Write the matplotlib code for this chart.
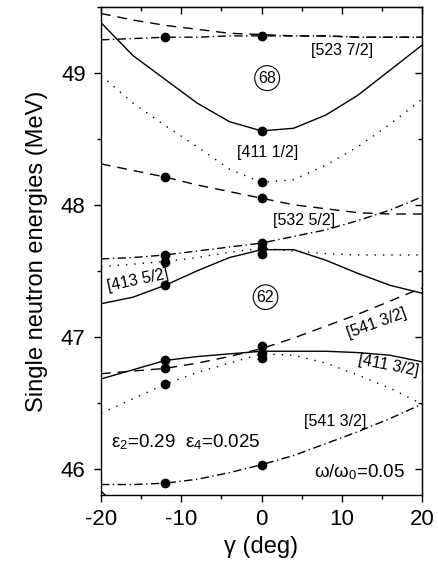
import matplotlib.pyplot as plt
import numpy as np

plt.rcParams['font.family'] = ['Liberation Sans', 'DejaVu Sans']
plt.rcParams['mathtext.fontset'] = 'custom'
plt.rcParams['mathtext.rm'] = 'Liberation Sans'
plt.rcParams['mathtext.it'] = 'Liberation Serif:italic'
plt.rcParams['axes.unicode_minus'] = False

# deformation angle grid (deg)
gamma = [-20, -16, -12, -8, -4, 0, 4, 8, 12, 16, 20]

# routhian levels, MeV
e_523_72 = [49.25, 49.26, 49.27, 49.27, 49.28, 49.28, 49.28, 49.28, 49.27, 49.27, 49.27]
e_top_dash = [49.45, 49.40, 49.36, 49.33, 49.30, 49.29, 49.28, 49.28, 49.27, 49.27, 49.27]
e_68 = [49.38, 49.13, 48.95, 48.77, 48.63, 48.56, 48.58, 48.68, 48.83, 49.02, 49.21]
e_411_12 = [48.98, 48.77, 48.60, 48.44, 48.27, 48.17, 48.19, 48.30, 48.44, 48.61, 48.80]
e_mid_dash = [48.31, 48.26, 48.21, 48.15, 48.10, 48.05, 48.00, 47.97, 47.94, 47.93, 47.93]
e_532_52 = [47.59, 47.60, 47.62, 47.65, 47.68, 47.71, 47.76, 47.81, 47.88, 47.96, 48.06]
e_413_52 = [47.53, 47.55, 47.57, 47.60, 47.64, 47.67, 47.65, 47.63, 47.62, 47.62, 47.62]
e_62_up = [47.25, 47.30, 47.39, 47.50, 47.60, 47.66, 47.66, 47.58, 47.48, 47.39, 47.33]
e_541_32a = [46.72, 46.74, 46.76, 46.80, 46.85, 46.91, 46.99, 47.08, 47.17, 47.27, 47.37]
e_62_low = [46.68, 46.75, 46.82, 46.85, 46.87, 46.89, 46.89, 46.89, 46.88, 46.86, 46.81]
e_411_32 = [46.42, 46.53, 46.64, 46.73, 46.80, 46.87, 46.86, 46.80, 46.71, 46.61, 46.49]
e_541_32b = [45.88, 45.88, 45.89, 45.92, 45.97, 46.03, 46.10, 46.19, 46.28, 46.38, 46.49]
e_low_solid_x = [-20, -16]
e_low_solid = [45.83, 45.60]

# tilted-axis cranking points
pts_m12 = [49.27, 48.21, 47.62, 47.57, 47.39, 46.82, 46.76, 46.64, 45.89]
pts_0 = [49.28, 48.56, 48.17, 48.05, 47.71, 47.67, 47.63, 46.93, 46.88, 46.84, 46.03]

solid = '-'
dash = (0, (7, 5))
dot = (0, (1, 5))
dashdot = (0, (6, 2.5, 1, 2.5))

fig = plt.figure(figsize=(4.38, 5.73), dpi=100)
ax = fig.add_axes([0.2306, 0.136, 0.733, 0.852])

levels = [
    (e_523_72, dashdot), (e_top_dash, dash), (e_68, solid), (e_411_12, dot),
    (e_mid_dash, dash), (e_532_52, dashdot), (e_413_52, dot), (e_62_up, solid),
    (e_541_32a, dash), (e_62_low, solid), (e_411_32, dot), (e_541_32b, dashdot),
]
for e, ls in levels:
    ax.plot(gamma, e, color='black', lw=1.0, linestyle=ls)
ax.plot(e_low_solid_x, e_low_solid, color='black', lw=1.0)

ax.plot([-12] * len(pts_m12), pts_m12, 'o', color='black', ms=6, zorder=5)
ax.plot([0] * len(pts_0), pts_0, 'o', color='black', ms=6, zorder=5)

fs = 11.5
ax.text(10.0, 49.17, '[523 7/2]', fontsize=fs, ha='center', va='center')
ax.text(0.8, 48.40, '[411 1/2]', fontsize=fs, ha='center', va='center')
ax.text(5.3, 47.88, '[532 5/2]', fontsize=fs, ha='center', va='center')
ax.text(-15.4, 47.43, '[413 5/2]', fontsize=fs, ha='center', va='center', rotation=12)
ax.text(14.4, 47.10, '[541 3/2]', fontsize=fs, ha='center', va='center', rotation=20)
ax.text(15.8, 46.78, '[411 3/2]', fontsize=fs, ha='center', va='center', rotation=-11)
ax.text(9.2, 46.36, '[541 3/2]', fontsize=fs, ha='center', va='center')

circ = dict(boxstyle='circle,pad=0.22', fc='white', ec='black', lw=0.8)
ax.text(0.7, 48.96, '68', fontsize=11.5, ha='center', va='center', bbox=circ)
ax.text(0.5, 47.30, '62', fontsize=11.5, ha='center', va='center', bbox=circ)

ax.text(-18.8, 46.20, r'$\mathrm{\varepsilon}_2$=0.29  $\mathrm{\varepsilon}_4$=0.025',
        fontsize=13.5, ha='left', va='center')
ax.text(17.9, 45.97, r'$\mathrm{\omega}$/$\mathrm{\omega}_0$=0.05',
        fontsize=13.5, ha='right', va='center')

ax.set_xlim(-20, 20)
ax.set_ylim(45.8, 49.5)
ax.set_xticks([-20, -10, 0, 10, 20])
ax.set_xticks([-15, -5, 5, 15], minor=True)
ax.set_yticks([46, 47, 48, 49])
ax.set_yticks([46.5, 47.5, 48.5, 49.5], minor=True)
ax.tick_params(which='both', direction='out', labelsize=16, width=1.0)
ax.tick_params(axis='y', pad=6)
ax.tick_params(axis='x', pad=5)
ax.tick_params(which='major', length=5)
ax.tick_params(which='minor', length=3)

# mirrored ticks pointing inwards on top and right
top = ax.secondary_xaxis('top')
top.set_xticks([-20, -10, 0, 10, 20])
top.set_xticks([-15, -5, 5, 15], minor=True)
top.tick_params(which='both', direction='in', labeltop=False, width=1.0)
top.tick_params(which='major', length=5)
top.tick_params(which='minor', length=3)
right = ax.secondary_yaxis('right')
right.set_yticks([46, 47, 48, 49])
right.set_yticks([46.5, 47.5, 48.5, 49.5], minor=True)
right.tick_params(which='both', direction='in', labelright=False, width=1.0)
right.tick_params(which='major', length=5)
right.tick_params(which='minor', length=3)

for s in ax.spines.values():
    s.set_linewidth(1.0)

ax.set_xlabel('γ (deg)', fontsize=17)
ax.set_ylabel('Single neutron energies (MeV)', fontsize=17, labelpad=9)

fig.savefig('out.png', dpi=100)
